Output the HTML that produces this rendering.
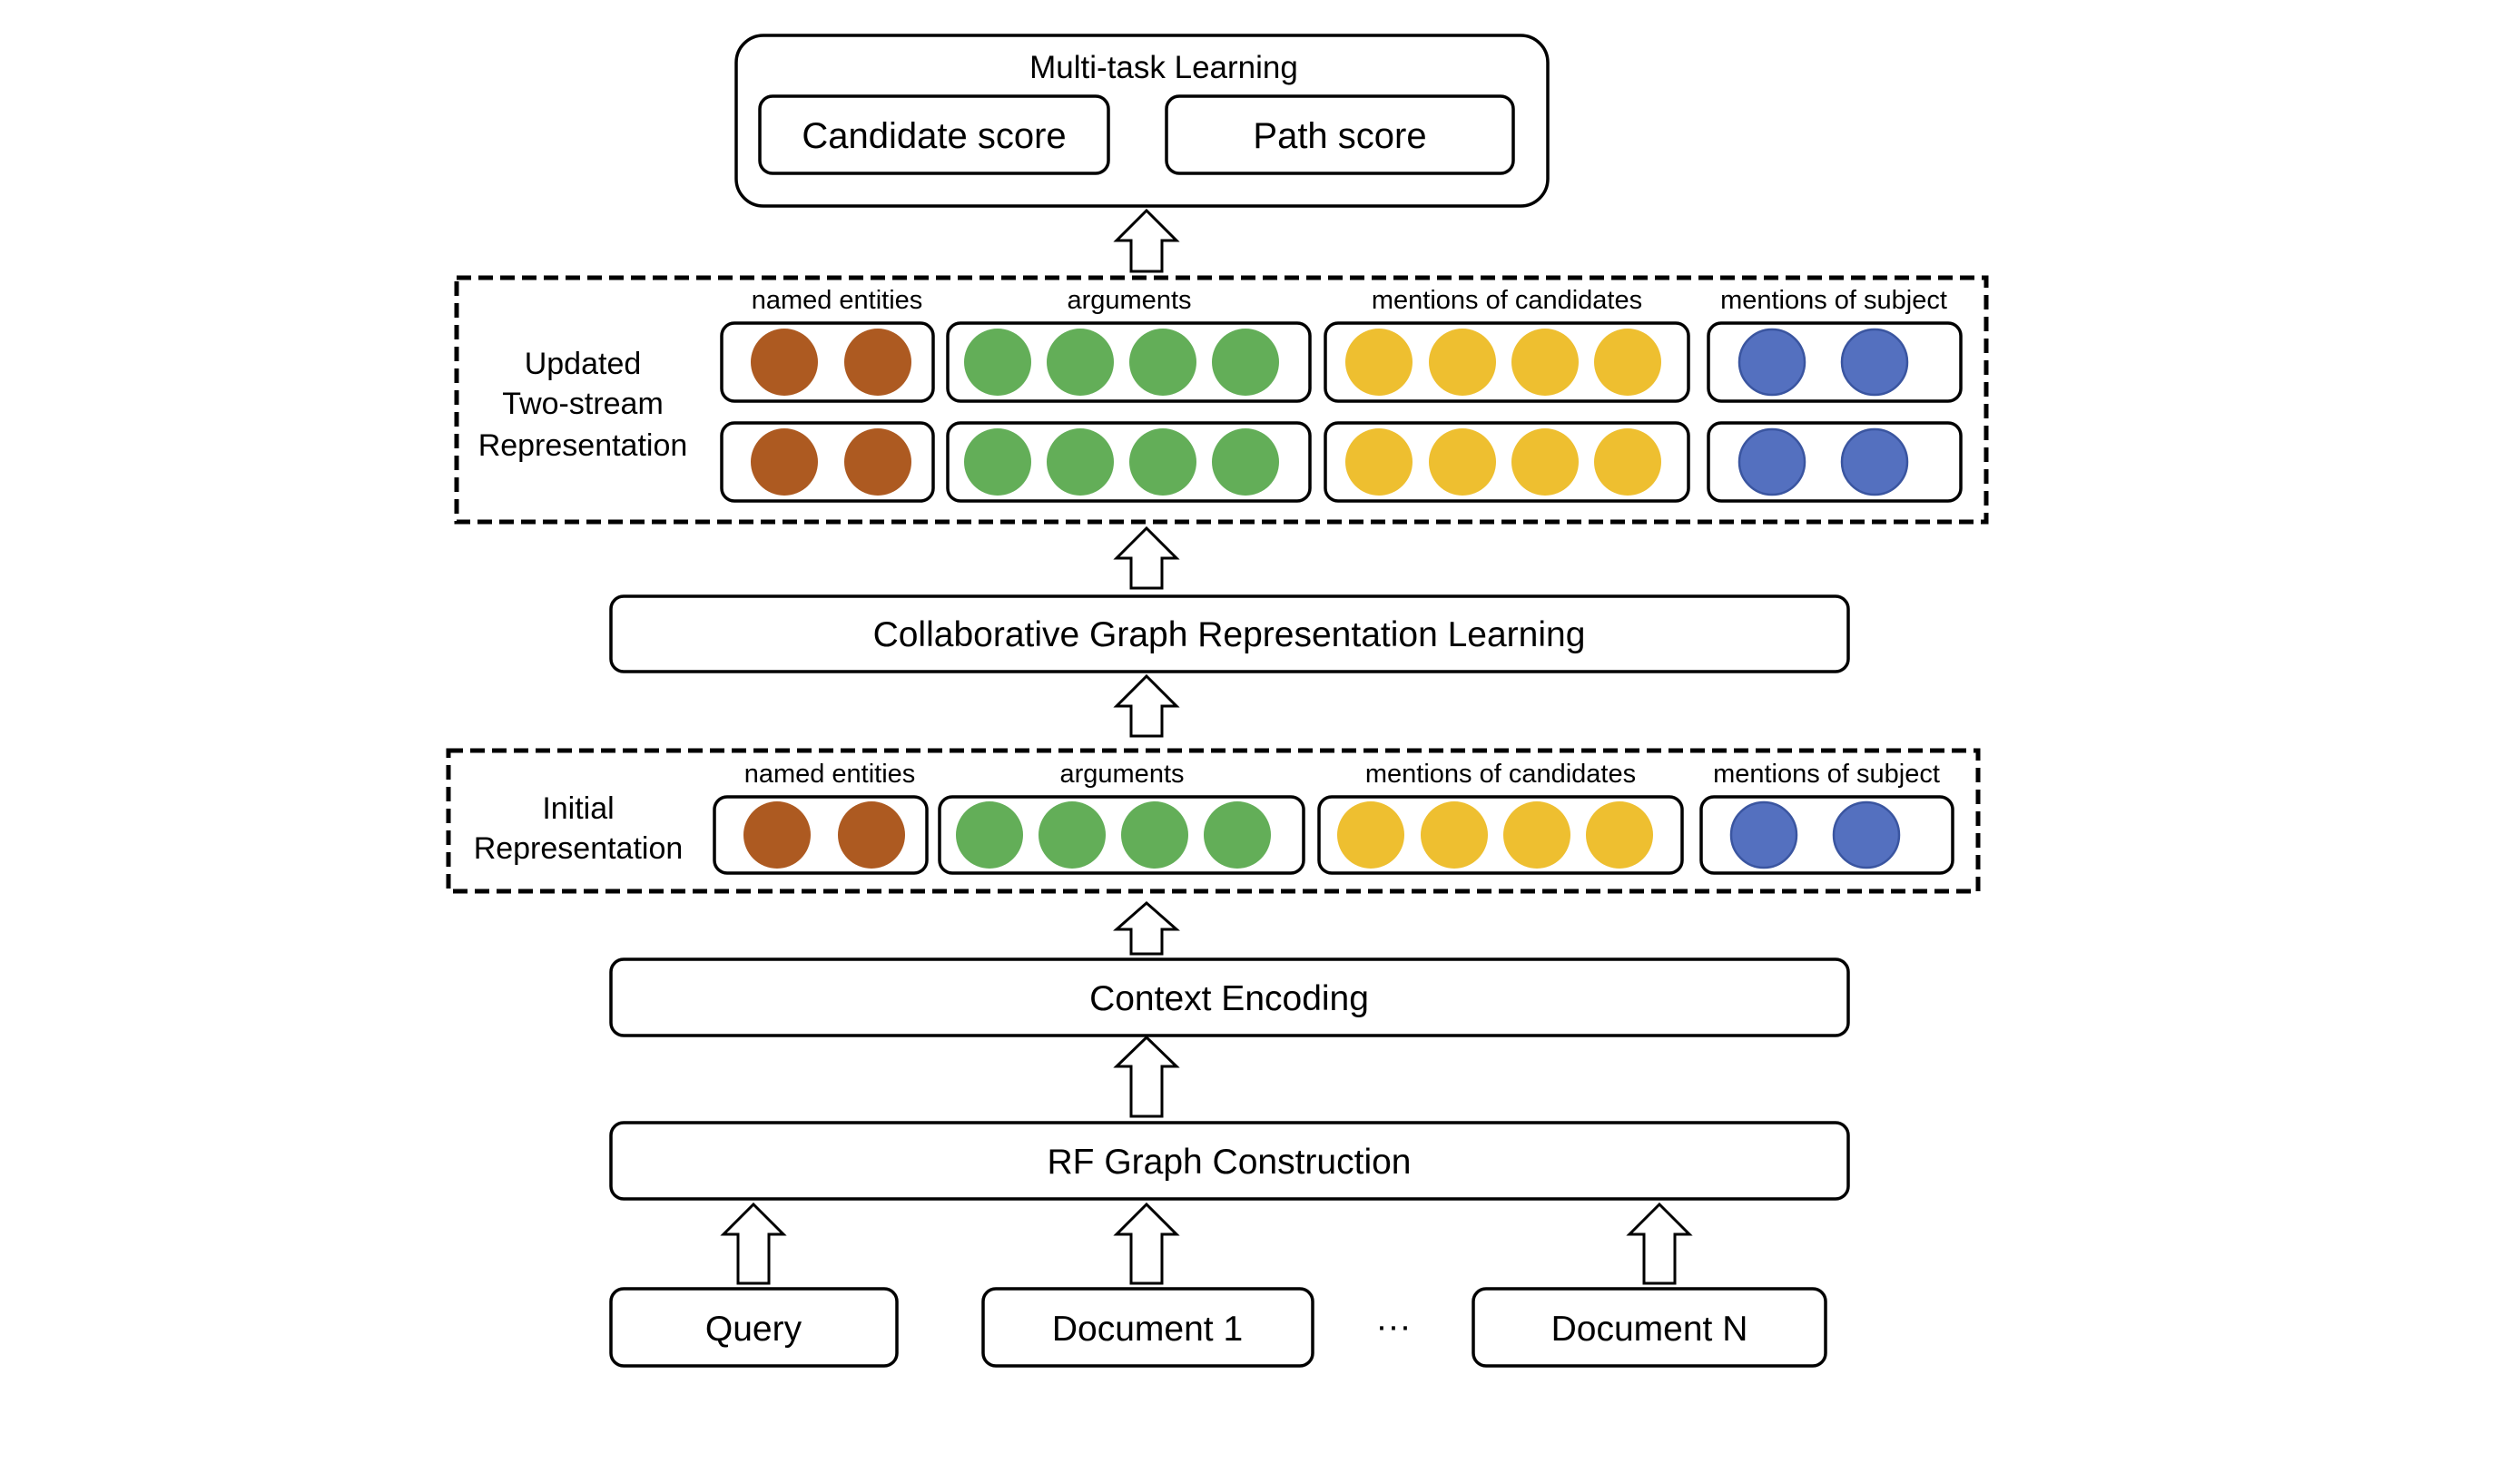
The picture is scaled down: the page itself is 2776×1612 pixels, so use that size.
<!DOCTYPE html>
<html><head><meta charset="utf-8"><style>
html,body{margin:0;padding:0;background:#fff;}
svg{display:block;}
text{font-family:"Liberation Sans","DejaVu Sans",sans-serif;fill:#000;}
</style></head><body>
<svg width="2776" height="1612" viewBox="0 0 2776 1612" xmlns="http://www.w3.org/2000/svg">
<defs>
<g id="arr"><path d="M0,0 L33,-33 0,0 Z"/></g>
</defs>
<g fill="none" stroke="#000" stroke-width="3.5">
<!-- top box -->
<rect x="811" y="39" width="894" height="188" rx="30"/>
<rect x="837" y="106" width="384" height="85" rx="14"/>
<rect x="1285" y="106" width="382" height="85" rx="14"/>
<!-- dashed boxes -->
<rect x="503" y="306" width="1685" height="269" stroke-width="5" stroke-dasharray="16,8"/>
<rect x="494" y="827" width="1685" height="155" stroke-width="5" stroke-dasharray="16,8"/>
<!-- group boxes row1 -->
<rect x="795" y="356" width="233" height="86" rx="14"/>
<rect x="1044" y="356" width="399" height="86" rx="14"/>
<rect x="1460" y="356" width="400" height="86" rx="14"/>
<rect x="1882" y="356" width="278" height="86" rx="14"/>
<rect x="795" y="466" width="233" height="86" rx="14"/>
<rect x="1044" y="466" width="399" height="86" rx="14"/>
<rect x="1460" y="466" width="400" height="86" rx="14"/>
<rect x="1882" y="466" width="278" height="86" rx="14"/>
<!-- initial row -->
<rect x="787" y="878" width="234" height="84" rx="14"/>
<rect x="1035" y="878" width="401" height="84" rx="14"/>
<rect x="1453" y="878" width="400" height="84" rx="14"/>
<rect x="1874" y="878" width="277" height="84" rx="14"/>
<!-- wide boxes -->
<rect x="673" y="657" width="1363" height="83" rx="14"/>
<rect x="673" y="1057" width="1363" height="84" rx="14"/>
<rect x="673" y="1237" width="1363" height="84" rx="14"/>
<rect x="673" y="1420" width="315" height="85" rx="14"/>
<rect x="1083" y="1420" width="363" height="85" rx="14"/>
<rect x="1623" y="1420" width="388" height="85" rx="14"/>
</g>
<!-- arrows -->
<g fill="#fff" stroke="#000" stroke-width="3">
<path d="M1263,232 L1296,265 L1280,265 L1280,299 L1246,299 L1246,265 L1230,265 Z"/>
<path d="M1263,582 L1296,615 L1280,615 L1280,648 L1246,648 L1246,615 L1230,615 Z"/>
<path d="M1263,745 L1296,778 L1280,778 L1280,811 L1246,811 L1246,778 L1230,778 Z"/>
<path d="M1263,995 L1296,1024 L1280,1024 L1280,1051 L1246,1051 L1246,1024 L1230,1024 Z"/>
<path d="M1263,1143 L1296,1175 L1280,1175 L1280,1230 L1246,1230 L1246,1175 L1230,1175 Z"/>
<path d="M1263,1327 L1296,1360 L1280,1360 L1280,1414 L1246,1414 L1246,1360 L1230,1360 Z"/>
<path d="M830,1327 L863,1360 L847,1360 L847,1414 L813,1414 L813,1360 L797,1360 Z"/>
<path d="M1828,1327 L1861,1360 L1845,1360 L1845,1414 L1811,1414 L1811,1360 L1795,1360 Z"/>
</g>
<!-- circles -->
<g>
<g fill="#ad5a21"><circle cx="864" cy="399" r="37"/><circle cx="967" cy="399" r="37"/><circle cx="864" cy="509" r="37"/><circle cx="967" cy="509" r="37"/><circle cx="856" cy="920" r="37"/><circle cx="960" cy="920" r="37"/></g>
<g fill="#63ae58"><circle cx="1099" cy="399" r="37"/><circle cx="1190" cy="399" r="37"/><circle cx="1281" cy="399" r="37"/><circle cx="1372" cy="399" r="37"/>
<circle cx="1099" cy="509" r="37"/><circle cx="1190" cy="509" r="37"/><circle cx="1281" cy="509" r="37"/><circle cx="1372" cy="509" r="37"/>
<circle cx="1090" cy="920" r="37"/><circle cx="1181" cy="920" r="37"/><circle cx="1272" cy="920" r="37"/><circle cx="1363" cy="920" r="37"/></g>
<g fill="#eebf30"><circle cx="1519" cy="399" r="37"/><circle cx="1611" cy="399" r="37"/><circle cx="1702" cy="399" r="37"/><circle cx="1793" cy="399" r="37"/>
<circle cx="1519" cy="509" r="37"/><circle cx="1611" cy="509" r="37"/><circle cx="1702" cy="509" r="37"/><circle cx="1793" cy="509" r="37"/>
<circle cx="1510" cy="920" r="37"/><circle cx="1602" cy="920" r="37"/><circle cx="1693" cy="920" r="37"/><circle cx="1784" cy="920" r="37"/></g>
<g fill="#5470bf" stroke="#3a55a0" stroke-width="2.5"><circle cx="1952" cy="399" r="36"/><circle cx="2065" cy="399" r="36"/><circle cx="1952" cy="509" r="36"/><circle cx="2065" cy="509" r="36"/><circle cx="1943" cy="920" r="36"/><circle cx="2056" cy="920" r="36"/></g>
</g>
<!-- text -->
<g text-anchor="middle">
<text x="1282" y="86" font-size="35">Multi-task Learning</text>
<text x="1029" y="163" font-size="40">Candidate score</text>
<text x="1476" y="163" font-size="40">Path score</text>
<g font-size="29">
<text x="922" y="340">named entities</text>
<text x="1244" y="340">arguments</text>
<text x="1660" y="340">mentions of candidates</text>
<text x="2020" y="340">mentions of subject</text>
<text x="914" y="862">named entities</text>
<text x="1236" y="862">arguments</text>
<text x="1653" y="862">mentions of candidates</text>
<text x="2012" y="862">mentions of subject</text>
</g>
<g font-size="34">
<text x="642" y="412">Updated</text>
<text x="642" y="456">Two-stream</text>
<text x="642" y="502">Representation</text>
<text x="637" y="902">Initial</text>
<text x="637" y="946">Representation</text>
</g>
<g font-size="39">
<text x="1354" y="712">Collaborative Graph Representation Learning</text>
<text x="1354" y="1113">Context Encoding</text>
<text x="1354" y="1293">RF Graph Construction</text>
<text x="830" y="1477">Query</text>
<text x="1264" y="1477">Document 1</text>
<text x="1817" y="1477">Document N</text>
<text x="1535" y="1474">···</text>
</g>
</g>
</svg>
</body></html>
